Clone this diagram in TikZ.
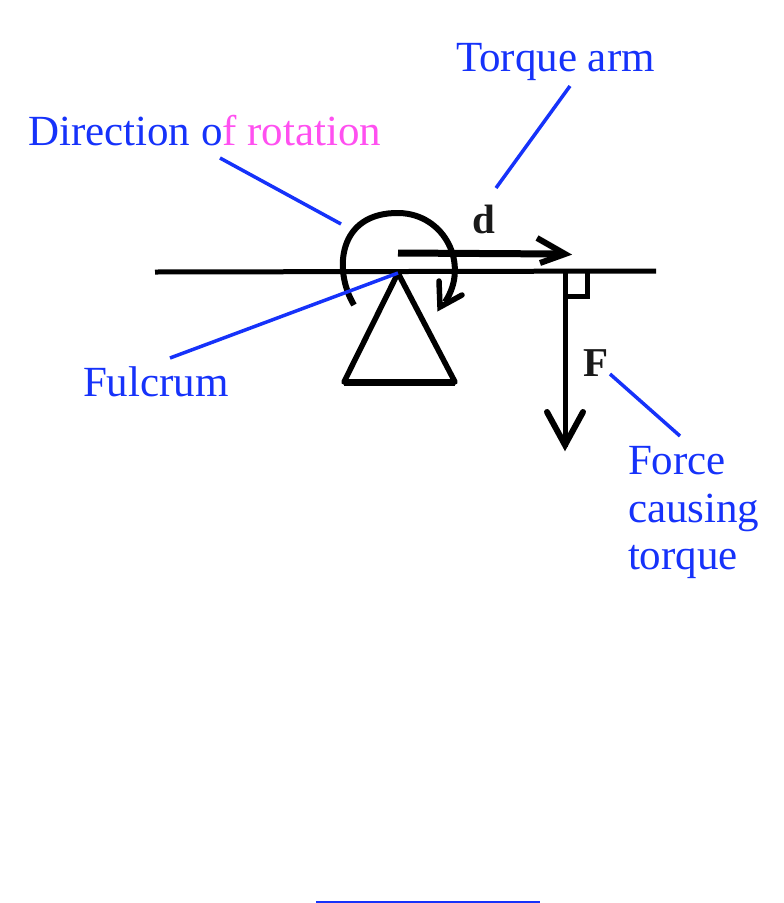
\documentclass[tikz,border=0pt]{standalone}
\usepackage{fontspec}
\setmainfont{Liberation Serif}
\definecolor{lblue}{RGB}{22,50,250}
\definecolor{lpink}{RGB}{255,80,240}
\tikzset{
  x=1pt,y=-1pt,
  lab/.style={font=\fontsize{43}{48}\selectfont,text=lblue,anchor=base west,inner sep=0pt,outer sep=0pt},
  sym/.style={font=\fontsize{41}{45}\selectfont\bfseries,text=black!90,anchor=base west,inner sep=0pt},
  leader/.style={draw=lblue,line width=3.5pt},
  ink/.style={draw=black,line width=5pt},
}
\begin{document}
\begin{tikzpicture}
\useasboundingbox (0,0) rectangle (784,903);
% labels
\node[lab] (torque) at (456,71) {Torque arm};
\node[lab] (dir) at (28,145) {Direction o\textcolor{lpink}{f rotation}};
\node[lab] (fulcrum) at (83,396) {Fulcrum};
\node[lab] (force1) at (628,474) {Force};
\node[lab] (force2) at (628,522) {causing};
\node[lab] (force3) at (628,569) {torque};
\node[sym] (dlabel) at (472,233) {d};
\node[sym] (flabel) at (583,376) {F};
% free points
\coordinate (tl) at (570,86);
\coordinate (tr) at (496,188);
\coordinate (dl) at (220,158);
\coordinate (dr) at (341,224);
\coordinate (fl) at (170,358);
\coordinate (piv) at (398,273);
\coordinate (fa) at (610,374);
\coordinate (fb) at (680,436);
\coordinate (beamL) at (155,272);
\coordinate (beamR) at (656,271);
\coordinate (triL) at (344,382);
\coordinate (triR) at (455,382);
\coordinate (dstart) at (398,253);
\coordinate (dtip) at (563,254);
\coordinate (foot) at (565,271);
\coordinate (ftip) at (565,447);
\coordinate (ulS) at (316,902);
\coordinate (ulE) at (540,902);
% beam and triangle
\draw[ink] (beamL) -- (beamR);
\draw[draw=black,line width=5.5pt,line join=round] (piv) -- (triR) -- (triL) -- cycle;
\draw[draw=black,line width=7pt] (triL) -- (triR);
% rotation arc
\draw[draw=black,line width=6pt] (354,305) .. controls (333,270) and (338,212) .. (399,213) .. controls (445,214) and (470,265) .. (445,302);
\draw[draw=black,line width=5.5pt,line cap=round,line join=miter] (439,281) -- (440,307) -- (462,295);
% d arrow
\draw[draw=black,line width=7pt] (dstart) -- (dtip);
\draw[draw=black,line width=6pt,line join=miter] (537,238) -- (565,254) -- (540,263);
% F arrow
\draw[ink] (foot) -- (ftip);
\draw[draw=black,line width=6pt,line join=miter,line cap=round] (547,412) -- (565,445) -- (583,412);
% right angle
\draw[draw=black,line width=5pt] (587,271) -- (587,296) -- (565,296);
% leaders
\draw[leader] (tl) -- (tr);
\draw[leader] (dl) -- (dr);
\draw[leader] (fl) -- (piv);
\draw[leader] (fa) -- (fb);
% bottom rule
\draw[leader,line width=2.5pt] (ulS) -- (ulE);
\end{tikzpicture}
\end{document}
